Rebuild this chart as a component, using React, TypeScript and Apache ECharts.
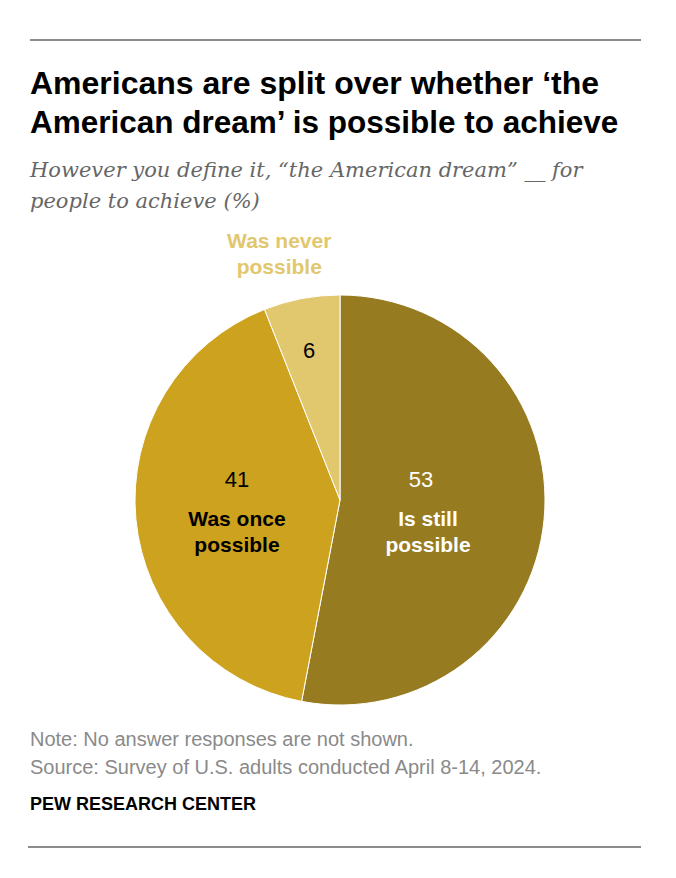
import React, { useEffect, useRef } from "react";
import * as echarts from "echarts";

const categories = ["Is still possible", "Was once possible", "Was never possible"];
const values = [53, 41, 6];
const nameLines = [["Is still", "possible"], ["Was once", "possible"], ["Was never", "possible"]];
const sliceColors = ["#977B20", "#CDA21E", "#E1C76E"];
const valueColors = ["#ffffff", "#000000", "#000000"];

const titleLines = ["Americans are split over whether \u2018the", "American dream\u2019 is possible to achieve"];
const subtitleLines = ["However you define it, \u201cthe American dream\u201d __ for", "people to achieve (%)"];
const noteText = "Note: No answer responses are not shown.";
const sourceText = "Source: Survey of U.S. adults conducted April 8-14, 2024.";
const brandText = "PEW RESEARCH CENTER";

const SANS = "'Liberation Sans', Arial, sans-serif";

export default function App() {
  const ref = useRef<HTMLDivElement>(null);
  useEffect(() => {
    document.body.style.margin = "0";
    const chart = echarts.init(ref.current!, null, { renderer: "svg" });
    const labelOffsets = [[-17, -4], [2, -4], [-11, -46]];
    const valuePads = [[0, 14, 0, 0], [0, 0, 0, 0], [0, 0, 0, 0]];
    const mainData = categories.map((c, i) => ({
      name: c,
      value: values[i],
      itemStyle: { color: sliceColors[i] },
      label: {
        offset: labelOffsets[i],
        formatter:
          i < 2
            ? `{v${i}|${values[i]}}\n{n${i}|${nameLines[i][0]}}\n{n${i}|${nameLines[i][1]}}`
            : `{v${i}|${values[i]}}`,
      },
    }));
    const rich: any = {};
    for (let i = 0; i < 3; i++) {
      rich["v" + i] = { fontFamily: SANS, fontSize: 22, color: valueColors[i], lineHeight: i < 2 ? 52 : 24, align: "center", padding: valuePads[i] };
      rich["n" + i] = { fontFamily: SANS, fontWeight: "bold", fontSize: 21, color: valueColors[i], lineHeight: 26, align: "center" };
    }
    const outerData = categories.map((c, i) => ({
      name: c,
      value: values[i],
      label:
        i === 2
          ? { show: true, offset: [-41, -143], formatter: `${nameLines[i][0]}\n${nameLines[i][1]}` }
          : { show: false },
    }));
    const gText = (text: string, x: number, y: number, style: any) => ({
      type: "text",
      x,
      y,
      style: { text, textVerticalAlign: "middle", textAlign: "left", ...style },
    });
    chart.setOption({
      animation: false,
      backgroundColor: "#ffffff",
      series: [
        {
          type: "pie",
          center: [340, 500],
          radius: [0, 205],
          startAngle: 90,
          clockwise: true,
          avoidLabelOverlap: false,
          silent: true,
          itemStyle: { borderColor: "#ffffff", borderWidth: 1 },
          label: { show: true, position: "inside", rich },
          labelLine: { show: false },
          data: mainData,
        },
        {
          type: "pie",
          center: [340, 500],
          radius: [0, 205],
          startAngle: 90,
          clockwise: true,
          avoidLabelOverlap: false,
          silent: true,
          z: 3,
          itemStyle: { color: "rgba(0,0,0,0)", borderWidth: 0 },
          label: {
            position: "inside",
            fontFamily: SANS,
            fontWeight: "bold",
            fontSize: 21,
            lineHeight: 26,
            color: sliceColors[2],
            align: "center",
          },
          labelLine: { show: false },
          data: outerData,
        },
      ],
      graphic: [
        { type: "line", shape: { x1: 30, y1: 40, x2: 641, y2: 40 }, style: { stroke: "#8c8c8c", lineWidth: 2 } },
        gText(titleLines[0], 30, 83, { font: `bold 32px ${SANS}`, fill: "#000" }),
        gText(titleLines[1], 30, 122, { font: `bold 31.5px ${SANS}`, fill: "#000" }),
        gText(subtitleLines[0], 30, 170, { font: `italic 21px 'DejaVu Serif', Georgia, serif`, fill: "#666666" }),
        gText(subtitleLines[1], 30, 201, { font: `italic 21px 'DejaVu Serif', Georgia, serif`, fill: "#666666" }),
        gText(noteText, 30, 739, { font: `20px ${SANS}`, fill: "#8a8a8a" }),
        gText(sourceText, 30, 767, { font: `20px ${SANS}`, fill: "#8a8a8a" }),
        gText(brandText, 30, 804, { font: `bold 18px ${SANS}`, fill: "#000" }),
        { type: "line", shape: { x1: 28, y1: 847, x2: 641, y2: 847 }, style: { stroke: "#8c8c8c", lineWidth: 2 } },
      ],
    });
    return () => chart.dispose();
  }, []);
  return <div ref={ref} style={{ width: 676, height: 878 }} />;
}
